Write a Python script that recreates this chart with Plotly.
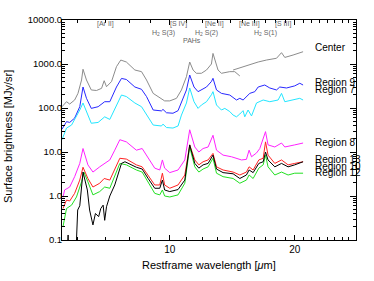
import math
import plotly.graph_objects as go

# ---------------- data ----------------
center_wave_a = [5.50, 5.64, 5.74, 5.90, 6.01, 6.13, 6.18, 6.30, 6.47, 6.66, 6.85, 6.95, 7.04, 7.24, 7.44,
                 7.62, 7.86, 8.24, 8.55, 8.79, 9.12, 9.55, 9.72, 10.0, 10.38, 10.67, 10.97, 11.17, 11.38,
                 11.59, 11.92, 12.26, 12.60, 12.71, 13.07, 13.32, 13.95, 14.34, 14.75]
center_flux_a = [107, 139, 123, 152, 215, 433, 760, 433, 257, 250, 280, 417, 305, 400, 870,
                 1230, 1110, 730, 670, 433, 215, 166, 145, 145, 166, 257, 515, 1110, 730,
                 615, 615, 730, 1000, 1740, 730, 615, 670, 670, 535]
center_wave_b = [14.21, 15.02, 15.59, 16.33, 17.10, 18.08, 18.59, 18.93, 19.82, 20.95]
center_flux_b = [730, 870, 950, 1110, 1230, 1350, 1810, 1410, 1600, 1900]

r9_wave = [5.50, 5.64, 5.74, 5.90, 6.07, 6.18, 6.30, 6.47, 6.72, 6.91, 6.97, 7.17, 7.44, 7.65, 7.86, 8.24,
           8.55, 8.79, 9.12, 9.55, 9.63, 9.82, 10.18, 10.47, 10.67, 10.97, 11.17, 11.44, 11.70, 11.92,
           12.26, 12.60, 12.71, 12.96, 13.32, 13.95, 14.48, 14.75, 15.02, 15.59, 16.03, 16.33, 16.94,
           17.42, 18.08, 18.41, 19.11, 20.0, 20.57, 20.95]
r9_flux = [33, 49, 47, 59, 107, 300, 166, 98, 107, 130, 139, 139, 300, 470, 445, 300,
           266, 182, 90, 86, 93, 78, 76, 87, 139, 257, 562, 300, 235, 257,
           300, 400, 473, 257, 215, 197, 152, 166, 152, 215, 235, 300, 333,
           285, 257, 300, 285, 318, 365, 333]

r7_wave = [5.50, 5.64, 5.80, 5.96, 6.07, 6.18, 6.30, 6.47, 6.72, 6.91, 6.97, 7.17, 7.44, 7.65, 7.86, 8.24,
           8.55, 8.79, 9.12, 9.55, 9.63, 9.82, 10.18, 10.47, 10.67, 10.97, 11.17, 11.44, 11.70, 11.92,
           12.26, 12.60, 12.71, 12.96, 13.32, 13.57, 13.95, 14.21, 14.48, 14.75, 15.02, 15.16, 15.44,
           15.74, 16.18, 16.79, 17.42, 18.24, 18.59, 18.93, 19.82, 20.57, 20.95]
r7_flux = [19, 35, 41, 63, 90, 130, 83, 45, 47, 59, 63, 55, 117, 197, 182, 130,
           107, 69, 41, 39, 43, 36, 35, 39, 69, 130, 285, 139, 98, 117,
           139, 200, 235, 117, 90, 98, 83, 69, 63, 73, 87, 63, 90,
           66, 130, 152, 139, 152, 215, 139, 152, 166, 152]

r8_wave = [5.53, 5.58, 5.74, 5.90, 6.07, 6.18, 6.35, 6.53, 6.78, 6.95, 7.17, 7.37, 7.58, 7.86, 8.31, 8.58,
           8.87, 9.20, 9.46, 9.60, 9.72, 10.0, 10.47, 10.87, 11.17, 11.49, 11.75, 12.03, 12.37, 12.71,
           12.96, 13.44, 14.08, 14.61, 14.89, 15.30, 15.53, 15.74, 16.18, 16.48, 17.01, 17.25, 17.91,
           18.59, 18.93, 20.0, 20.95]
r8_flux = [0.93, 1.37, 1.6, 2.75, 5.5, 12, 5.1, 3.5, 4.6, 5.5, 6.6, 11, 19, 17, 11, 12,
           7.2, 4.3, 3.9, 6.6, 4.3, 3.4, 3.9, 6.6, 32, 13, 10, 12, 13, 24,
           11, 8.5, 7.8, 6.8, 6.6, 6.8, 11, 7.8, 9.5, 12, 29, 14.5, 13,
           16, 13, 14.5, 16]

r10_wave = [5.53, 5.64, 5.74, 5.90, 6.07, 6.18, 6.35, 6.53, 6.78, 6.95, 7.17, 7.37, 7.58, 7.86, 8.31, 8.58,
            8.87, 9.20, 9.46, 9.60, 9.72, 10.0, 10.47, 10.87, 11.17, 11.49, 11.75, 12.03, 12.37, 12.71,
            12.96, 13.44, 14.21, 14.75, 15.30, 15.53, 15.88, 16.39, 16.79, 17.01, 17.25, 17.91, 18.59,
            19.28, 20.0, 20.95]
r10_flux = [0.52, 0.81, 0.77, 1.15, 2.3, 4.5, 2.5, 1.6, 1.95, 2.5, 2.3, 3.9, 7.2, 6.9, 5.1, 4.6,
            3.0, 1.78, 1.78, 3.3, 1.78, 1.5, 1.78, 3.0, 14.5, 6.6, 5.1, 6.0, 6.6, 9.3,
            4.6, 3.9, 3.5, 3.0, 3.5, 4.6, 3.9, 6.6, 7.2, 17, 8.5, 5.5, 6.6,
            5.1, 5.5, 6.0]

r13_wave = [5.64, 5.69, 5.72, 5.93, 6.00, 6.07, 6.18, 6.33, 6.41, 6.53, 6.62, 6.74, 6.82, 6.91, 6.97, 7.04,
            7.17, 7.37, 7.65, 7.80, 8.31, 8.58, 8.87, 9.20, 9.46, 9.60, 9.72, 10.0, 10.47, 10.87, 11.17,
            11.49, 11.75, 12.03, 12.37, 12.71, 12.96, 13.44, 14.21, 14.75, 15.30, 15.53, 15.88, 16.39,
            16.79, 17.01, 17.25, 17.91, 18.59, 19.28, 20.0, 20.95]
r13_flux = [0.03, 0.13, 0.03, 0.03, 0.48, 0.6, 3.5, 1.37, 0.48, 0.22, 0.40, 0.34, 0.52, 0.62, 0.28, 0.57,
            1.0, 1.78, 5.5, 6.0, 4.5, 4.1, 2.5, 1.5, 1.5, 2.3, 1.37, 1.26, 1.4, 2.3, 14.5,
            5.5, 4.3, 5.1, 5.5, 8.5, 4.1, 3.4, 3.2, 2.5, 3.0, 3.9, 3.4, 5.5,
            6.0, 10, 6.6, 4.6, 5.5, 4.6, 5.1, 6.0]

r12_wave = [5.53, 5.64, 5.80, 5.96, 6.13, 6.21, 6.35, 6.53, 6.78, 6.97, 7.17, 7.37, 7.58, 7.86, 8.31, 8.58,
            8.87, 9.20, 9.46, 9.60, 9.72, 10.0, 10.47, 10.87, 11.17, 11.49, 11.75, 12.03, 12.37, 12.71,
            12.96, 13.44, 14.21, 14.75, 15.30, 15.53, 15.88, 16.39, 16.79, 17.01, 17.25, 17.91, 18.59,
            19.28, 20.0, 20.95]
r12_flux = [0.2, 0.52, 0.62, 0.95, 2.1, 3.5, 2.1, 1.06, 1.26, 1.6, 1.5, 2.75, 5.5, 5.1, 3.9, 3.5,
            2.1, 1.15, 1.06, 1.37, 1.0, 0.95, 1.06, 1.95, 13, 4.6, 3.5, 4.1, 4.6, 7.2,
            3.3, 2.75, 2.5, 1.95, 2.3, 3.0, 2.5, 4.3, 5.1, 8.5, 4.6, 3.0, 3.5,
            3.0, 3.3, 3.3]

series_names = ["Center", "Region 9", "Region 7", "Region 8", "Region 13", "Region 10", "Region 12"]

# emission line labels (row 1: fine-structure, row 2: H2)
line_labels_top = ["[Ar II]", "[S IV]", "[Ne II]", "[Ne III]", "[S III]"]
line_waves_top = [6.99, 10.51, 12.81, 15.56, 18.71]
line_labels_h2 = ["H<sub>2</sub> S(3)", "H<sub>2</sub> S(2)", "H<sub>2</sub> S(1)"]
line_waves_h2 = [9.66, 12.28, 17.03]
pah_waves = [6.2, 7.7, 8.6, 11.3, 12.7, 14.2, 16.4, 17.0, 17.4]

x_tick_vals = [10, 20]
x_tick_text = ["10", "20"]
x_minor_vals = [6, 7, 8, 9, 11, 12, 13, 14, 15, 16, 17, 18, 19, 21, 22, 23, 24, 25, 26, 27, 28]
y_tick_vals = [0.1, 1, 10, 100, 1000, 10000]
y_tick_text = ["0.1", "1.0", "10.0", "100.0", "1000.0", "10000.0"]
y_minor_vals = [m * 10 ** e for e in range(-1, 4) for m in range(2, 10)]

# ---------------- styles ----------------
FONT = "Liberation Sans"
GRAY_TXT = "#666666"
colors = {
    "Center": "#8c8c8c",
    "Region 9": "#2828ff",
    "Region 7": "#22e6ff",
    "Region 8": "#ff22ff",
    "Region 13": "#000000",
    "Region 10": "#ff2222",
    "Region 12": "#22e022",
}
label_y = {  # paper y of right-hand labels
    "Center": 0.873, "Region 9": 0.714, "Region 7": 0.682, "Region 8": 0.445,
    "Region 13": 0.368, "Region 10": 0.336, "Region 12": 0.309,
}
label_x_um = 22.1

fig = go.Figure()

def add(w, f, name):
    fig.add_trace(go.Scatter(x=w, y=f, mode="lines", name=name,
                             line=dict(color=colors[name], width=1), showlegend=False))

add(center_wave_a, center_flux_a, "Center")
add(center_wave_b, center_flux_b, "Center")
add(r9_wave, r9_flux, "Region 9")
add(r7_wave, r7_flux, "Region 7")
add(r8_wave, r8_flux, "Region 8")
add(r10_wave, r10_flux, "Region 10")
add(r12_wave, r12_flux, "Region 12")
add(r13_wave, r13_flux, "Region 13")

ann = []
for n in series_names:
    ann.append(dict(x=math.log10(label_x_um), y=label_y[n], xref="x", yref="paper", text=n,
                    showarrow=False, xanchor="left", yanchor="middle",
                    font=dict(family=FONT, size=10, color="black")))

for t, w in zip(line_labels_top, line_waves_top):
    ann.append(dict(x=math.log10(w), y=0.982, xref="x", yref="paper", text=t, showarrow=False,
                    xanchor="center", yanchor="middle", font=dict(family=FONT, size=7, color=GRAY_TXT)))
for t, w in zip(line_labels_h2, line_waves_h2):
    ann.append(dict(x=math.log10(w), y=0.941, xref="x", yref="paper", text=t, showarrow=False,
                    xanchor="center", yanchor="middle", font=dict(family=FONT, size=7, color=GRAY_TXT)))
ann.append(dict(x=math.log10(11.3), y=0.905, xref="x", yref="paper", text="PAHs", showarrow=False,
                xanchor="center", yanchor="middle", font=dict(family=FONT, size=7, color=GRAY_TXT)))

ann.append(dict(x=0.5, y=0, xref="paper", yref="paper", yshift=-25, text="Restframe wavelength [<i>μ</i>m]",
                showarrow=False, xanchor="center", yanchor="middle", font=dict(family=FONT, size=11, color="black")))
ann.append(dict(x=0, y=0.468, xref="paper", yref="paper", xshift=-54, text="Surface brightness [MJy/sr]",
                showarrow=False, textangle=-90, xanchor="center", yanchor="middle",
                font=dict(family=FONT, size=11, color="black")))

shapes = []
lc = "#666666"
for w in line_waves_top + line_waves_h2:
    shapes.append(dict(type="line", xref="x", yref="paper", x0=math.log10(w), x1=math.log10(w),
                       y0=0.914, y1=0.927, line=dict(color=lc, width=1)))
shapes.append(dict(type="line", xref="x", yref="paper", x0=math.log10(min(pah_waves)),
                   x1=math.log10(max(pah_waves)), y0=0.877, y1=0.877, line=dict(color=lc, width=1)))
for w in pah_waves:
    shapes.append(dict(type="line", xref="x", yref="paper", x0=math.log10(w), x1=math.log10(w),
                       y0=0.859, y1=0.877, line=dict(color=lc, width=1)))

axis_common = dict(showline=True, linecolor="black", linewidth=1, mirror="allticks", ticks="inside",
                   showgrid=False, zeroline=False, tickcolor="black", tickwidth=1, automargin=False)

fig.update_layout(
    width=374, height=281,
    margin=dict(l=62, r=18, t=20, b=41, autoexpand=False),
    paper_bgcolor="white", plot_bgcolor="white",
    annotations=ann, shapes=shapes,
    xaxis=dict(type="log", range=[math.log10(5.5), math.log10(28.1)], tickmode="array",
               tickvals=x_tick_vals, ticktext=x_tick_text, ticklen=5,
               tickfont=dict(family=FONT, size=10, color="black"),
               minor=dict(tickmode="array", tickvals=x_minor_vals, ticklen=3, ticks="inside",
                          tickcolor="black", showgrid=False),
               **axis_common),
    yaxis=dict(type="log", range=[-1, 4], tickmode="array", tickvals=y_tick_vals, ticktext=y_tick_text,
               ticklen=6, ticklabelstandoff=-3,
               tickfont=dict(family=FONT, size=9.5, color="black"),
               minor=dict(tickmode="array", tickvals=y_minor_vals, ticklen=3, ticks="inside",
                          tickcolor="black", showgrid=False),
               **axis_common),
)

fig.write_html("out.html", config={"displayModeBar": False},
               post_script="document.body.style.margin='0px';")
